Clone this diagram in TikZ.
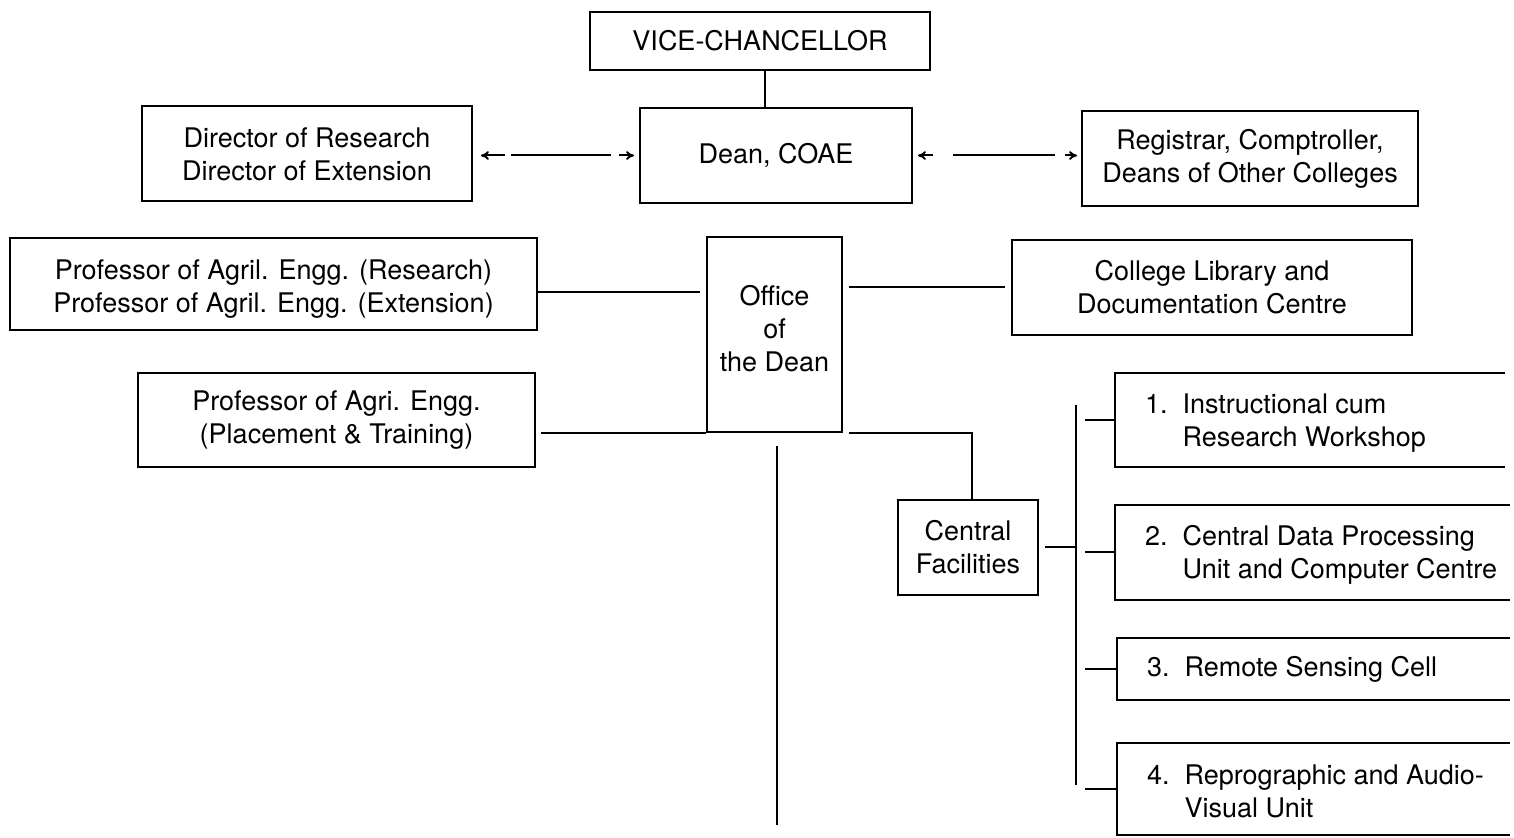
\documentclass[tikz,border=0pt]{standalone}
\usepackage{fontspec}
\setmainfont{TeX Gyre Heros}
\usetikzlibrary{arrows.meta}
\begin{document}
\begin{tikzpicture}[x=0.5pt,y=-0.5pt,
  txt/.style={font=\fontsize{13.5}{16.5}\selectfont},
  box/.style={txt, draw, line width=1pt, inner sep=0pt, align=center},
  openbox/.style={inner sep=0pt},
  item/.style={txt, inner sep=0pt, anchor=west, align=left},
  label/.style={txt, inner sep=0pt, align=center},
  conn/.style={line width=1pt},
  biarrow/.style={line width=1pt, {To[length=4pt,width=4.5pt]}-{To[length=4pt,width=4.5pt]}}
]
\useasboundingbox (0,0) rectangle (1514,838);

% main boxes
\node[box, minimum width=170pt, minimum height=29pt] (vc) at (760,41) {VICE-CHANCELLOR};
\node[box, minimum width=136pt, minimum height=47.5pt] (dean) at (776,155.5) {Dean, COAE};
\node[box, minimum width=165pt, minimum height=47.5pt] (dir) at (307,154) {Director of Research\\Director of Extension};
\node[box, minimum width=168pt, minimum height=47.5pt] (reg) at (1250,158.5) {Registrar, Comptroller,\\Deans of Other Colleges};
\node[box, minimum width=67.5pt, minimum height=97.5pt] (office) at (774.5,334.5) {};
\node[label] (officetxt) at ([yshift=3pt]office.center) {Office\\of\\the Dean};
\node[box, minimum width=263.5pt, minimum height=46pt] (profR) at (273.5,284) {};
\node[label] (profRtxt) at ([yshift=-2.5pt]profR.center) {Professor of Agril. Engg. (Research)\\Professor of Agril. Engg. (Extension)};
\node[box, minimum width=200pt, minimum height=47.5pt] (lib) at (1212,287.5) {College Library and\\Documentation Centre};
\node[box, minimum width=198.5pt, minimum height=47pt] (profP) at (336.5,420) {Professor of Agri. Engg.\\(Placement \& Training)};
\node[box, minimum width=70pt, minimum height=47.5pt] (cf) at (968,547.5) {Central\\Facilities};

% open boxes of the central facilities
\node[openbox, minimum width=195pt, minimum height=47pt] (b1) at (1310,420) {};
\node[openbox, minimum width=197.5pt, minimum height=47.5pt] (b2) at (1312.5,552.5) {};
\node[openbox, minimum width=196.5pt, minimum height=31pt] (b3) at (1313.5,669) {};
\node[openbox, minimum width=196.5pt, minimum height=46pt] (b4) at (1313.5,789) {};
\foreach \b in {b1,b2,b3,b4}{
  \draw[conn] (\b.north east) -- (\b.north west) -- (\b.south west) -- (\b.south east);
}
\node[item] (t1) at ([xshift=15pt,yshift=-1.5pt]b1.west) {1.\ \ Instructional cum\\\hphantom{1.\ \ }Research Workshop};
\node[item] (t2) at ([xshift=15pt,yshift=-1pt]b2.west) {2.\ \ Central Data Processing\\\hphantom{2.\ \ }Unit and Computer Centre};
\node[item] (t3) at ([xshift=15pt]b3.west) {3.\ \ Remote Sensing Cell};
\node[item] (t4) at ([xshift=15pt,yshift=-1pt]b4.west) {4.\ \ Reprographic and Audio-\\\hphantom{4.\ \ }Visual Unit};

% connectors
\path ([xshift=2.5pt]vc.south) coordinate (vcs);
\draw[conn] (vcs) -- (vcs |- dean.north);

\draw[biarrow, dash pattern=on 11pt off 3pt on 50pt off 4pt on 14pt, shorten <=4pt, shorten >=2.5pt]
  (dean.west -| dir.east) -- (dean.west);
\draw[biarrow, dash pattern=on 6.5pt off 10pt on 51pt off 5pt on 20pt, shorten <=2.5pt, shorten >=2pt]
  (dean.east) -- (dean.east -| reg.west);

\draw[conn, shorten >=3pt] ([yshift=-4pt]profR.east) -- ([yshift=-4pt]profR.east -| office.west);
\draw[conn, shorten <=3pt, shorten >=3pt] (office.east |- lib.west) -- (lib.west);
\draw[conn, shorten <=2.5pt] (profP.east |- office.south west) -- (office.south west);
\draw[conn, shorten <=3pt] (office.south east) -- ([xshift=2pt]office.south east -| cf.north) -- ([xshift=2pt]cf.north);

\coordinate (down) at (777,825);
\draw[conn, shorten <=6.5pt] (office.south -| down) -- (down);

\coordinate (bust) at (1076,405);
\coordinate (busb) at (1076,785);
\draw[conn] (bust) -- (busb);
\draw[conn, shorten <=3pt] (cf.east) -- (cf.east -| bust);
\foreach \b in {b1,b2,b3,b4}{
  \draw[conn, shorten <=4.5pt] (\b.west -| bust) -- (\b.west);
}
\end{tikzpicture}
\end{document}
